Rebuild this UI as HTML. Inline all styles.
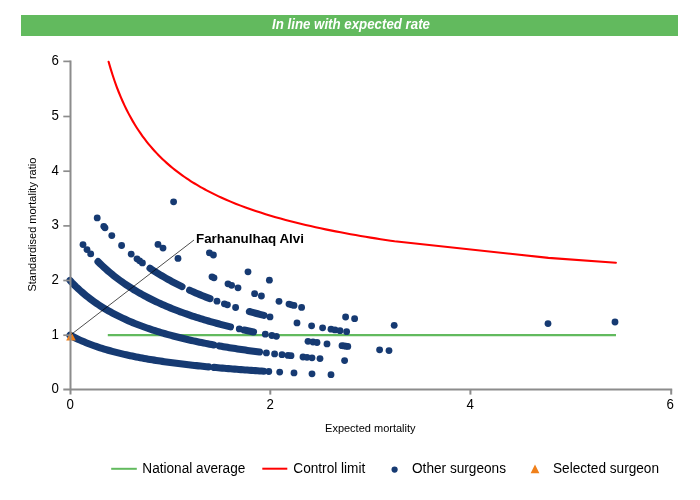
<!DOCTYPE html>
<html><head><meta charset="utf-8"><title>Funnel plot</title>
<style>
html,body{margin:0;padding:0;background:#fff;}
body{width:700px;height:500px;overflow:hidden;position:relative;font-family:"Liberation Sans",Arial,sans-serif;}
svg{position:absolute;left:0;top:0;display:block}
text{font-family:"Liberation Sans",Arial,sans-serif;fill:#000}
.tk{font-size:14px}
.lg{font-size:14px}
.at{font-size:11px}
</style></head><body>
<svg width="700" height="500" viewBox="0 0 700 500">
<rect x="21" y="15" width="657" height="21" fill="#62ba5e"/>
<text x="351" y="29.3" text-anchor="middle" textLength="158" lengthAdjust="spacingAndGlyphs" style="font-size:14px;font-weight:bold;font-style:italic;fill:#fff">In line with expected rate</text>
<!-- national average -->
<line x1="107.8" y1="335.1" x2="616" y2="335.1" stroke="#62ba5e" stroke-width="2.2"/>
<!-- control limit -->
<path d="M108.60,61.75 L110.60,68.63 L112.60,75.03 L114.60,80.98 L116.60,86.54 L118.60,91.75 L120.60,96.65 L122.60,101.26 L124.60,105.62 L126.60,109.74 L128.60,113.64 L130.60,117.35 L132.60,120.88 L134.60,124.25 L136.60,127.46 L138.60,130.53 L140.60,133.46 L142.60,136.27 L144.60,138.97 L146.60,141.56 L148.60,144.05 L150.60,146.45 L152.60,148.76 L154.60,150.99 L156.60,153.14 L158.60,155.21 L160.60,157.22 L162.60,159.16 L164.60,161.03 L166.60,162.85 L168.60,164.62 L170.60,166.33 L172.60,167.99 L174.60,169.60 L176.60,171.16 L178.60,172.69 L180.60,174.17 L182.60,175.61 L184.60,177.01 L186.60,178.38 L188.60,179.71 L190.60,181.01 L192.60,182.27 L194.60,183.51 L196.60,184.72 L198.60,185.89 L200.60,187.05 L202.60,188.17 L204.60,189.27 L206.60,190.34 L208.60,191.39 L210.60,192.42 L212.60,193.43 L214.60,194.42 L216.60,195.38 L218.60,196.33 L220.60,197.26 L225.60,199.49 L230.60,201.63 L235.60,203.66 L240.60,205.61 L245.60,207.47 L250.60,209.25 L255.60,210.96 L260.60,212.61 L265.60,214.19 L270.60,215.71 L275.60,217.17 L280.60,218.58 L285.60,219.94 L290.60,221.26 L295.60,222.53 L300.60,223.76 L305.60,224.95 L310.60,226.10 L315.60,227.22 L320.60,228.30 L325.60,229.35 L330.60,230.37 L335.60,231.37 L340.60,232.33 L345.60,233.27 L350.60,234.18 L355.60,235.07 L360.60,235.94 L365.60,236.78 L370.60,237.60 L375.60,238.40 L380.60,239.19 L385.60,239.95 L390.60,240.70 L394.60,241.28 L548.40,257.84 L615.90,262.78" fill="none" stroke="#ff0000" stroke-width="2.1" stroke-linejoin="round" stroke-linecap="round"/>
<!-- other surgeons -->
<g fill="none" stroke="#163a72" stroke-width="7.1" stroke-linecap="round" stroke-linejoin="round">
<path d="M70.00,335.12 L72.01,336.20 L74.01,337.23 L76.02,338.23 L78.03,339.18 L80.04,340.11 L82.04,341.00 L84.05,341.86 L86.06,342.69 L88.07,343.49 L90.07,344.26 L92.08,345.01 L94.09,345.73 L96.09,346.44 L98.10,347.12 L100.11,347.77 L102.12,348.41 L104.12,349.03 L106.13,349.63 L108.14,350.22 L110.14,350.78 L112.15,351.33 L114.16,351.87 L116.17,352.39 L118.17,352.90 L120.18,353.39 L122.19,353.87 L124.20,354.34 L126.20,354.79 L128.21,355.24 L130.22,355.67 L132.22,356.09 L134.23,356.51 L136.24,356.91 L138.25,357.30 L140.25,357.68 L142.26,358.06 L144.27,358.42 L146.28,358.78 L148.28,359.13 L150.29,359.47 L152.30,359.81 L154.30,360.13 L156.31,360.45 L158.32,360.76 L160.33,361.07 L162.33,361.37 L164.34,361.66 L166.35,361.95 L168.36,362.23 L170.36,362.51 L172.37,362.78 L174.38,363.05 L176.38,363.31 L178.39,363.56 L180.40,363.81 L182.41,364.06 L184.41,364.30 L186.42,364.53 L188.43,364.77 L190.43,364.99 L192.44,365.22 L194.45,365.44 L196.46,365.65 L198.46,365.87 L200.47,366.07 L202.48,366.28 L204.49,366.48 L206.49,366.68 L208.50,366.87"/>
<path d="M214.00,367.39 L216.07,367.58 L218.14,367.76 L220.21,367.95 L222.28,368.13 L224.35,368.30 L226.42,368.48 L228.50,368.65 L230.57,368.81 L232.64,368.98 L234.71,369.14 L236.78,369.30 L238.85,369.46 L240.92,369.62 L242.99,369.77 L245.06,369.92 L247.13,370.07 L249.20,370.22 L251.28,370.36 L253.35,370.50 L255.42,370.64 L257.49,370.78 L259.56,370.92 L261.63,371.05 L263.70,371.18"/>
<path d="M70.00,280.44 L72.02,282.61 L74.05,284.69 L76.07,286.70 L78.10,288.63 L80.12,290.49 L82.14,292.28 L84.17,294.01 L86.19,295.68 L88.22,297.29 L90.24,298.85 L92.26,300.35 L94.29,301.81 L96.31,303.22 L98.34,304.59 L100.36,305.91 L102.38,307.19 L104.41,308.44 L106.43,309.64 L108.45,310.81 L110.48,311.95 L112.50,313.06 L114.53,314.13 L116.55,315.18 L118.57,316.19 L120.60,317.18 L122.62,318.15 L124.65,319.08 L126.67,320.00 L128.69,320.89 L130.72,321.76 L132.74,322.60 L134.77,323.43 L136.79,324.23 L138.81,325.02 L140.84,325.79 L142.86,326.54 L144.89,327.27 L146.91,327.98 L148.93,328.68 L150.96,329.37 L152.98,330.03 L155.01,330.69 L157.03,331.33 L159.05,331.95 L161.08,332.57 L163.10,333.17 L165.13,333.75 L167.15,334.33 L169.17,334.89 L171.20,335.45 L173.22,335.99 L175.25,336.52 L177.27,337.04 L179.29,337.55 L181.32,338.05 L183.34,338.54 L185.36,339.02 L187.39,339.49 L189.41,339.96 L191.44,340.41 L193.46,340.86 L195.48,341.30 L197.51,341.73 L199.53,342.16 L201.56,342.57 L203.58,342.98 L205.60,343.38 L207.63,343.78 L209.65,344.17 L211.68,344.55 L213.70,344.93"/>
<path d="M219.40,345.95 L221.41,346.30 L223.41,346.64 L225.41,346.98 L227.42,347.32 L229.42,347.65 L231.43,347.97 L233.44,348.29 L235.44,348.60 L237.44,348.91 L239.45,349.21 L241.46,349.51 L243.46,349.81 L245.47,350.10 L247.47,350.39 L249.47,350.67 L251.48,350.95 L253.48,351.22 L255.49,351.49 L257.50,351.76 L259.50,352.02"/>
<path d="M98.00,261.64 L100.01,263.62 L102.02,265.54 L104.02,267.40 L106.03,269.21 L108.04,270.96 L110.05,272.67 L112.05,274.32 L114.06,275.93 L116.07,277.50 L118.08,279.02 L120.08,280.50 L122.09,281.94 L124.10,283.35 L126.11,284.72 L128.11,286.05 L130.12,287.35 L132.13,288.62 L134.14,289.86 L136.14,291.07 L138.15,292.25 L140.16,293.40 L142.17,294.52 L144.17,295.62 L146.18,296.69 L148.19,297.74 L150.20,298.77 L152.20,299.77 L154.21,300.75 L156.22,301.71 L158.23,302.65 L160.23,303.57 L162.24,304.47 L164.25,305.35 L166.26,306.22 L168.27,307.06 L170.27,307.89 L172.28,308.70 L174.29,309.50 L176.30,310.28 L178.30,311.05 L180.31,311.80 L182.32,312.54 L184.33,313.26 L186.33,313.97 L188.34,314.67 L190.35,315.35 L192.36,316.03 L194.36,316.69 L196.37,317.33 L198.38,317.97 L200.39,318.60 L202.39,319.21 L204.40,319.82 L206.41,320.41 L208.42,321.00 L210.42,321.57 L212.43,322.14 L214.44,322.69 L216.45,323.24 L218.45,323.78 L220.46,324.31 L222.47,324.83 L224.48,325.34 L226.48,325.84 L228.49,326.34 L230.50,326.83"/>
<path d="M244.20,329.98 L246.53,330.48 L248.85,330.97 L251.18,331.46 L253.50,331.94"/>
<path d="M150.00,268.29 L152.00,269.62 L154.00,270.93 L156.00,272.21 L158.00,273.46 L160.00,274.68 L162.00,275.88 L164.00,277.06 L166.00,278.21 L168.00,279.34 L170.00,280.44 L172.00,281.52 L174.00,282.58 L176.00,283.63 L178.00,284.65 L180.00,285.65 L182.00,286.63"/>
<path d="M189.60,290.20 L191.64,291.12 L193.68,292.02 L195.72,292.90 L197.76,293.77 L199.80,294.62 L201.84,295.46 L203.88,296.28 L205.92,297.09 L207.96,297.89 L210.00,298.67"/>
<path d="M249.40,311.52 L251.49,312.10 L253.57,312.67 L255.66,313.23 L257.74,313.79 L259.83,314.33 L261.91,314.87 L264.00,315.41"/>
</g>
<g fill="#163a72">
<circle cx="268.8" cy="371.5" r="3.42"/>
<circle cx="279.7" cy="372.1" r="3.42"/>
<circle cx="294.0" cy="372.9" r="3.42"/>
<circle cx="312.0" cy="373.8" r="3.42"/>
<circle cx="331.0" cy="374.7" r="3.42"/>
<circle cx="266.4" cy="352.9" r="3.42"/>
<circle cx="274.6" cy="353.9" r="3.42"/>
<circle cx="282.0" cy="354.7" r="3.42"/>
<circle cx="288.0" cy="355.4" r="3.42"/>
<circle cx="291.0" cy="355.7" r="3.42"/>
<circle cx="303.0" cy="357.0" r="3.42"/>
<circle cx="307.0" cy="357.3" r="3.42"/>
<circle cx="312.0" cy="357.8" r="3.42"/>
<circle cx="320.0" cy="358.6" r="3.42"/>
<circle cx="344.6" cy="360.6" r="3.42"/>
<circle cx="83.0" cy="244.6" r="3.42"/>
<circle cx="87.0" cy="249.6" r="3.42"/>
<circle cx="90.7" cy="253.9" r="3.42"/>
<circle cx="239.3" cy="328.9" r="3.42"/>
<circle cx="265.3" cy="334.2" r="3.42"/>
<circle cx="271.9" cy="335.5" r="3.42"/>
<circle cx="276.4" cy="336.3" r="3.42"/>
<circle cx="308.0" cy="341.3" r="3.42"/>
<circle cx="313.0" cy="342.0" r="3.42"/>
<circle cx="317.0" cy="342.5" r="3.42"/>
<circle cx="327.0" cy="343.9" r="3.42"/>
<circle cx="342.0" cy="345.7" r="3.42"/>
<circle cx="344.0" cy="345.9" r="3.42"/>
<circle cx="346.0" cy="346.2" r="3.42"/>
<circle cx="347.8" cy="346.4" r="3.42"/>
<circle cx="379.6" cy="349.8" r="3.42"/>
<circle cx="389.0" cy="350.6" r="3.42"/>
<circle cx="97.2" cy="217.9" r="3.42"/>
<circle cx="103.8" cy="226.3" r="3.42"/>
<circle cx="105.0" cy="227.8" r="3.42"/>
<circle cx="111.8" cy="235.6" r="3.42"/>
<circle cx="121.6" cy="245.5" r="3.42"/>
<circle cx="131.2" cy="254.1" r="3.42"/>
<circle cx="137.0" cy="258.8" r="3.42"/>
<circle cx="139.6" cy="260.8" r="3.42"/>
<circle cx="142.4" cy="262.9" r="3.42"/>
<circle cx="217.0" cy="301.2" r="3.42"/>
<circle cx="224.4" cy="303.8" r="3.42"/>
<circle cx="227.4" cy="304.8" r="3.42"/>
<circle cx="235.6" cy="307.5" r="3.42"/>
<circle cx="270.0" cy="316.9" r="3.42"/>
<circle cx="297.0" cy="322.9" r="3.42"/>
<circle cx="311.6" cy="325.8" r="3.42"/>
<circle cx="322.6" cy="327.8" r="3.42"/>
<circle cx="331.0" cy="329.2" r="3.42"/>
<circle cx="335.0" cy="329.9" r="3.42"/>
<circle cx="340.0" cy="330.7" r="3.42"/>
<circle cx="346.6" cy="331.7" r="3.42"/>
<circle cx="158.0" cy="244.4" r="3.42"/>
<circle cx="163.0" cy="248.1" r="3.42"/>
<circle cx="178.0" cy="258.4" r="3.42"/>
<circle cx="212.0" cy="276.8" r="3.42"/>
<circle cx="214.0" cy="277.8" r="3.42"/>
<circle cx="228.0" cy="283.8" r="3.42"/>
<circle cx="231.6" cy="285.3" r="3.42"/>
<circle cx="238.0" cy="287.8" r="3.42"/>
<circle cx="254.6" cy="293.7" r="3.42"/>
<circle cx="261.4" cy="296.0" r="3.42"/>
<circle cx="279.0" cy="301.3" r="3.42"/>
<circle cx="289.0" cy="304.1" r="3.42"/>
<circle cx="291.5" cy="304.8" r="3.42"/>
<circle cx="294.0" cy="305.4" r="3.42"/>
<circle cx="301.6" cy="307.4" r="3.42"/>
<circle cx="345.6" cy="317.0" r="3.42"/>
<circle cx="354.6" cy="318.7" r="3.42"/>
<circle cx="394.2" cy="325.3" r="3.42"/>
<circle cx="209.4" cy="252.8" r="3.42"/>
<circle cx="213.4" cy="255.0" r="3.42"/>
<circle cx="248.0" cy="271.8" r="3.42"/>
<circle cx="269.4" cy="280.2" r="3.42"/>
<circle cx="173.6" cy="201.8" r="3.42"/>
<circle cx="548.0" cy="323.6" r="3.42"/>
<circle cx="615.0" cy="322.0" r="3.42"/>
</g>
<!-- selected surgeon -->
<polygon points="71,331.2 75.8,340.6 66.2,340.6" fill="#f0801a"/>
<line x1="70.5" y1="335" x2="194" y2="240" stroke="#000" stroke-width="0.7"/>
<text x="196" y="242.6" textLength="108" lengthAdjust="spacingAndGlyphs" style="font-size:13.33px;font-weight:bold">Farhanulhaq Alvi</text>
<!-- axes -->
<g stroke="#8c8c8c" stroke-width="2" fill="none">
<line x1="70.5" y1="60.5" x2="70.5" y2="394.6"/>
<line x1="63.3" y1="389.5" x2="672.2" y2="389.5"/>
<line x1="63.3" y1="335.2" x2="70.5" y2="335.2" stroke-width="1.7"/>
<line x1="63.3" y1="280.5" x2="70.5" y2="280.5" stroke-width="1.7"/>
<line x1="63.3" y1="225.9" x2="70.5" y2="225.9" stroke-width="1.7"/>
<line x1="63.3" y1="171.2" x2="70.5" y2="171.2" stroke-width="1.7"/>
<line x1="63.3" y1="116.5" x2="70.5" y2="116.5" stroke-width="1.7"/>
<line x1="63.3" y1="61.4" x2="70.5" y2="61.4" stroke-width="1.7"/>
<line x1="270.3" y1="389.5" x2="270.3" y2="394.6"/>
<line x1="470.4" y1="389.5" x2="470.4" y2="394.6"/>
<line x1="671.2" y1="389.5" x2="671.2" y2="394.6"/>
</g>
<text class="tk" x="59" y="392.8" text-anchor="end" textLength="7.4" lengthAdjust="spacingAndGlyphs">0</text>
<text class="tk" x="59" y="338.5" text-anchor="end" textLength="7.4" lengthAdjust="spacingAndGlyphs">1</text>
<text class="tk" x="59" y="283.8" text-anchor="end" textLength="7.4" lengthAdjust="spacingAndGlyphs">2</text>
<text class="tk" x="59" y="229.2" text-anchor="end" textLength="7.4" lengthAdjust="spacingAndGlyphs">3</text>
<text class="tk" x="59" y="174.5" text-anchor="end" textLength="7.4" lengthAdjust="spacingAndGlyphs">4</text>
<text class="tk" x="59" y="119.8" text-anchor="end" textLength="7.4" lengthAdjust="spacingAndGlyphs">5</text>
<text class="tk" x="59" y="64.7" text-anchor="end" textLength="7.4" lengthAdjust="spacingAndGlyphs">6</text>
<text class="tk" x="70.1" y="409" text-anchor="middle" textLength="7.4" lengthAdjust="spacingAndGlyphs">0</text>
<text class="tk" x="270.1" y="409" text-anchor="middle" textLength="7.4" lengthAdjust="spacingAndGlyphs">2</text>
<text class="tk" x="470.1" y="409" text-anchor="middle" textLength="7.4" lengthAdjust="spacingAndGlyphs">4</text>
<text class="tk" x="670.1" y="409" text-anchor="middle" textLength="7.4" lengthAdjust="spacingAndGlyphs">6</text>
<text class="at" x="370.3" y="431.5" text-anchor="middle">Expected mortality</text>
<text class="at" transform="translate(35.9,224.6) rotate(-90)" text-anchor="middle">Standardised mortality ratio</text>
<!-- legend -->
<line x1="111.2" y1="468.8" x2="136.8" y2="468.8" stroke="#62ba5e" stroke-width="2"/>
<text class="lg" x="142.3" y="473" textLength="103" lengthAdjust="spacingAndGlyphs">National average</text>
<line x1="262.3" y1="468.7" x2="287.3" y2="468.7" stroke="#ff0000" stroke-width="2"/>
<text class="lg" x="293.3" y="473" textLength="72" lengthAdjust="spacingAndGlyphs">Control limit</text>
<circle cx="394.6" cy="469.6" r="3.1" fill="#163a72"/>
<text class="lg" x="412" y="473" textLength="94" lengthAdjust="spacingAndGlyphs">Other surgeons</text>
<polygon points="535,464.6 539.4,473.3 530.6,473.3" fill="#f0801a"/>
<text class="lg" x="553" y="473" textLength="106" lengthAdjust="spacingAndGlyphs">Selected surgeon</text>
</svg>
</body></html>
